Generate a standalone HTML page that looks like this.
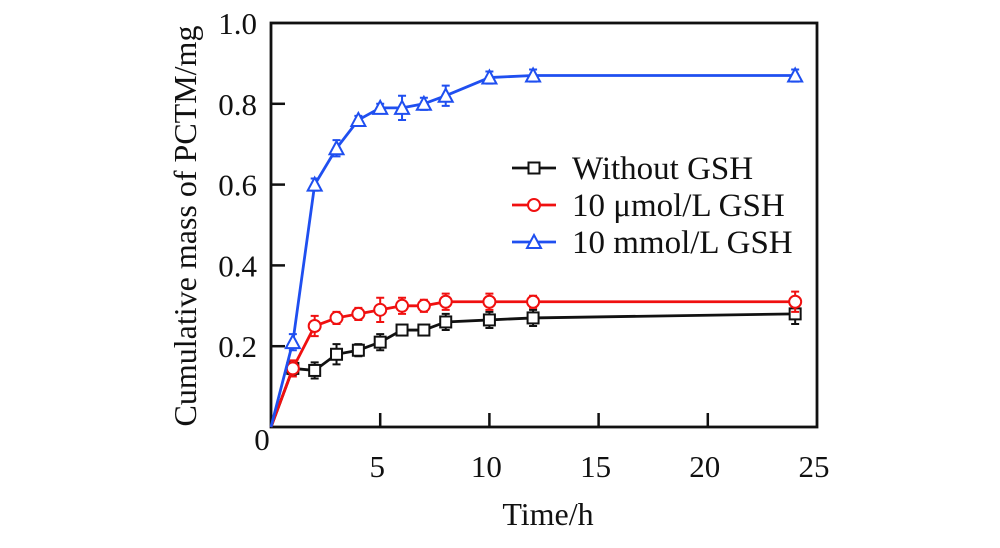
<!DOCTYPE html>
<html><head><meta charset="utf-8"><style>
body{margin:0;background:#fff;width:1000px;height:543px;overflow:hidden}
text{font-family:"Liberation Serif",serif;fill:#111}
</style></head><body>
<svg id="c" width="1000" height="543"></svg>
<script>
const times=[0,1,2,3,4,5,6,7,8,10,12,24];
const seriesNames=["Without GSH","10 μmol/L GSH","10 mmol/L GSH"];
const noGsh=[0,0.145,0.14,0.18,0.19,0.21,0.24,0.24,0.26,0.265,0.27,0.28];
const noGshErr=[0,0.015,0.02,0.025,0.015,0.02,0.01,0.01,0.02,0.02,0.02,0.025];
const microGsh=[0,0.145,0.25,0.27,0.28,0.29,0.30,0.30,0.31,0.31,0.31,0.31];
const microGshErr=[0,0.02,0.025,0.015,0.015,0.03,0.02,0.015,0.02,0.02,0.015,0.025];
const milliGsh=[0,0.21,0.60,0.69,0.76,0.79,0.79,0.80,0.82,0.865,0.87,0.87];
const milliGshErr=[0,0.02,0.015,0.02,0.01,0.01,0.03,0.015,0.025,0.015,0.015,0.015];
const xTicks=[0,5,10,15,20,25];
const yTicks=[0,0.2,0.4,0.6,0.8,1.0];
const yTickLabels=["0","0.2","0.4","0.6","0.8","1.0"];

const svg=document.getElementById('c');
const NS='http://www.w3.org/2000/svg';
const X0=271,X1=817,Y0=427,Y1=23;
const sx=v=>X0+(v-0)/25*(X1-X0);
const sy=v=>Y0-v*(Y0-Y1);
function mk(t,a,p){const e=document.createElementNS(NS,t);for(const k in a)e.setAttribute(k,a[k]);(p||svg).appendChild(e);return e;}

const frame=mk('rect',{x:X0,y:Y1,width:X1-X0,height:Y0-Y1,fill:'none',stroke:'#111','stroke-width':2.8});



xTicks.forEach((t,i)=>{
  if(t>0&&t<25){const l=mk('line',{x1:sx(t),x2:sx(t),y1:Y0,y2:Y0-14,stroke:'#111','stroke-width':2.5});
  
  }
  const tx=mk('text',{x:t===0?sx(t)-9:sx(t)-3,y:t===0?450:477,'font-size':31,'text-anchor':'middle'});
  tx.textContent=t;
  
  
});
yTicks.forEach((t,i)=>{
  if(t>0&&t<1){const l=mk('line',{x1:X0,x2:X0+14,y1:sy(t),y2:sy(t),stroke:'#111','stroke-width':2.5});
  
  }
  if(t>0){const tx=mk('text',{x:X0-14,y:sy(t)+11,'font-size':31,'text-anchor':'end'});
  tx.textContent=yTickLabels[i];
  
  }
});
const xt=mk('text',{x:548,y:525,'font-size':32,'text-anchor':'middle'});
xt.textContent='Time/h';


const yt=mk('text',{x:0,y:0,'font-size':32,'text-anchor':'middle',transform:'translate(196,226) rotate(-90)'});
yt.textContent='Cumulative mass of PCTM/mg';



function marker(kind,x,y,color,p){
  let m;
  if(kind==='sq')m=mk('rect',{x:x-5.5,y:y-5.5,width:11,height:11,fill:'#fff',stroke:color,'stroke-width':2},p);
  else if(kind==='ci')m=mk('circle',{cx:x,cy:y,r:6,fill:'#fff',stroke:color,'stroke-width':2},p);
  else m=mk('polygon',{points:`${x},${y-7} ${x-7},${y+6} ${x+7},${y+6}`,fill:'#fff',stroke:color,'stroke-width':2},p);
  return m;
}
const series=[[noGsh,noGshErr,'#111','sq','series-without-gsh'],[microGsh,microGshErr,'#f01010','ci','series-10umol-gsh'],[milliGsh,milliGshErr,'#1f4ff0','tr','series-10mmol-gsh']];
series.forEach(([vals,errs,col,kind,name])=>{
  const g=mk('g',{});
  
  
  mk('polyline',{points:times.map((t,i)=>sx(t)+','+sy(vals[i])).join(' '),fill:'none',stroke:col,'stroke-width':2.8},g);
  times.forEach((t,i)=>{
    if(t===0)return;
    const x=sx(t),a=sy(vals[i]+errs[i]),b=sy(vals[i]-errs[i]);
    const eb=mk('path',{d:`M${x},${a}V${b}M${x-4},${a}H${x+4}M${x-4},${b}H${x+4}`,stroke:col,'stroke-width':2,fill:'none'},g);
    
    
    const m=marker(kind,x,sy(vals[i]),col,g);
    
    
  });
});
const lg=mk('g',{});


series.forEach(([v,e,col,kind],i)=>{
  const y=168+i*37;
  const g=mk('g',{},lg);
  
  
  mk('line',{x1:512,x2:556,y1:y,y2:y,stroke:col,'stroke-width':2.8},g);
  marker(kind,534,y,col,g);
  const t=mk('text',{x:572,y:y+11,'font-size':33},g);
  t.textContent=seriesNames[i];
});
</script>
</body></html>
